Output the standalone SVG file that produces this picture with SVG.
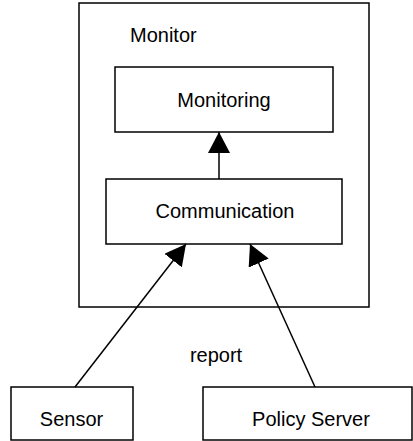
<svg xmlns="http://www.w3.org/2000/svg" width="413" height="441" viewBox="0 0 413 441">
<style>
.box{fill:#fff;stroke:#000;stroke-width:1.5}
.lbl{font-family:"Liberation Sans",Arial,sans-serif;font-size:20px;fill:#000}
.conn{stroke:#000;stroke-width:1.5;fill:none;marker-end:url(#arr)}
</style>
<defs>
<marker id="arr" markerUnits="userSpaceOnUse" markerWidth="22" markerHeight="22" viewBox="0 0 22 22" refX="21" refY="11" orient="auto">
<path d="M0,0 L21,11 L0,22 Z" fill="#000"/>
</marker>
</defs>
<g id="monitor">
<rect class="box" x="79" y="3" width="290" height="304"/>
<text class="lbl" x="130" y="42">Monitor</text>
</g>
<g id="monitoring">
<rect class="box" x="115" y="67" width="218" height="65"/>
<text class="lbl" x="224" y="107" text-anchor="middle">Monitoring</text>
</g>
<g id="communication">
<rect class="box" x="106" y="179" width="236" height="65"/>
<text class="lbl" x="225" y="218" text-anchor="middle">Communication</text>
</g>
<g id="sensor">
<rect class="box" x="11" y="387" width="122" height="53"/>
<text class="lbl" x="71.5" y="426" text-anchor="middle">Sensor</text>
</g>
<g id="policy-server">
<rect class="box" x="203" y="387" width="209" height="53"/>
<text class="lbl" x="311" y="426" text-anchor="middle">Policy Server</text>
</g>
<g id="connectors">
<line class="conn" x1="219" y1="179" x2="219" y2="132"/>
<line class="conn" x1="75" y1="387" x2="186" y2="244"/>
<line class="conn" x1="315" y1="387" x2="250" y2="244"/>
<text class="lbl" x="216" y="362" text-anchor="middle">report</text>
</g>
</svg>
